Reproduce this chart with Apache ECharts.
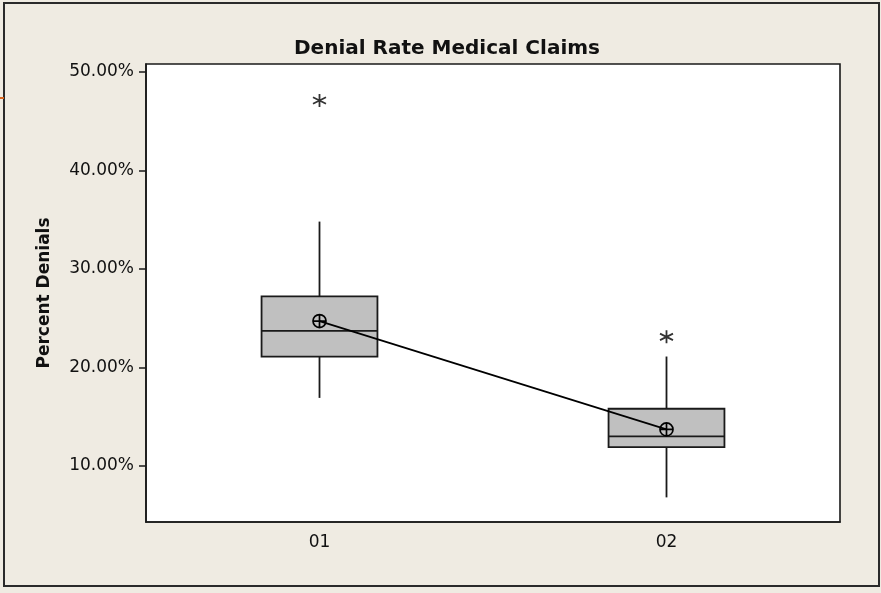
<!DOCTYPE html>
<html><head><meta charset="utf-8">
<script src="https://cdn.jsdelivr.net/npm/echarts@6/dist/echarts.min.js"></script>
<style>html,body{margin:0;padding:0;background:#efebe2}#c{width:881px;height:593px}</style>
</head><body><div id="c"></div>
<script>
const categories = ['01', '02'];
const boxMin = [16.9, 6.8];
const boxQ1 = [21.1, 11.9];
const boxMedian = [23.7, 13.0];
const boxQ3 = [27.2, 15.8];
const boxMax = [34.8, 21.1];
const means = [24.7, 13.7];
const outlierCat = [0, 1];
const outlierVal = [47.1, 23.1];
const yTicks = [10, 20, 30, 40, 50];

const boxData = categories.map((c, i) => [i, boxMin[i], boxQ1[i], boxMedian[i], boxQ3[i], boxMax[i]]);
const outlierData = outlierCat.map((c, i) => [c, outlierVal[i]]);

const chart = echarts.init(document.getElementById('c'));
const ink = '#1a1a1a';
chart.setOption({
  backgroundColor: '#efebe2',
  animation: false,
  title: {
    text: 'Denial Rate Medical Claims',
    left: 442, textAlign: 'center',
    top: 34,
    textStyle: { fontFamily: 'DejaVu Sans', fontWeight: 'bold', fontSize: 20, color: '#111' }
  },
  graphic: [
    { type: 'rect', shape: { x: 4, y: 3, width: 875, height: 583 }, style: { fill: 'none', stroke: '#2a2a2a', lineWidth: 2 }, silent: true },
    { type: 'rect', shape: { x: 0, y: 97, width: 4, height: 2 }, style: { fill: '#d9661f' }, silent: true }
  ],
  grid: {
    left: 146, right: 41, top: 64, bottom: 71,
    show: true, backgroundColor: '#ffffff', borderColor: ink, borderWidth: 1.6
  },
  xAxis: {
    type: 'category',
    data: categories,
    boundaryGap: true,
    axisLine: { lineStyle: { color: ink, width: 1.6 } },
    axisTick: { alignWithLabel: true, length: 7, lineStyle: { color: ink, width: 1.5 } },
    axisLabel: { margin: 12, fontFamily: 'DejaVu Sans', fontSize: 17, color: '#111' },
    splitLine: { show: false }
  },
  yAxis: {
    type: 'value',
    min: 4.3,
    max: 50.8,
    name: 'Percent Denials',
    nameLocation: 'middle',
    nameGap: 93,
    nameRotate: 90,
    nameTextStyle: { fontFamily: 'DejaVu Sans', fontWeight: 'bold', fontSize: 17, color: '#111' },
    axisLine: { show: true, lineStyle: { color: ink, width: 1.6 } },
    axisTick: { show: true, length: 7, customValues: yTicks, lineStyle: { color: ink, width: 1.5 } },
    axisLabel: {
      customValues: yTicks,
      margin: 12,
      fontFamily: 'DejaVu Sans', fontSize: 17, color: '#111',
      formatter: v => v.toFixed(2) + '%'
    },
    splitLine: { show: false }
  },
  series: [
    {
      type: 'custom',
      data: boxData,
      encode: { x: 0, y: [1, 2, 3, 4, 5] },
      z: 2,
      renderItem(params, api) {
        const x = api.value(0);
        const pMin = api.coord([x, api.value(1)]);
        const pQ1 = api.coord([x, api.value(2)]);
        const pMed = api.coord([x, api.value(3)]);
        const pQ3 = api.coord([x, api.value(4)]);
        const pMax = api.coord([x, api.value(5)]);
        const w = api.size([1, 0])[0] * 0.334;
        const cx = pMed[0];
        const st = { stroke: ink, lineWidth: 1.8 };
        return {
          type: 'group', children: [
            { type: 'line', shape: { x1: cx, y1: pMax[1], x2: cx, y2: pQ3[1] }, style: st },
            { type: 'line', shape: { x1: cx, y1: pQ1[1], x2: cx, y2: pMin[1] }, style: st },
            { type: 'rect', shape: { x: cx - w / 2, y: pQ3[1], width: w, height: pQ1[1] - pQ3[1] }, style: { fill: '#c0c0c0', stroke: ink, lineWidth: 1.8 } },
            { type: 'line', shape: { x1: cx - w / 2, y1: pMed[1], x2: cx + w / 2, y2: pMed[1] }, style: st }
          ]
        };
      }
    },
    {
      type: 'line',
      data: means,
      z: 4,
      symbol: 'path://M-6,0A6,6,0,1,1,6,0A6,6,0,1,1,-6,0ZM-6,0L6,0M0,-6L0,6',
      symbolSize: 13,
      showSymbol: true,
      lineStyle: { color: '#000', width: 1.7 },
      itemStyle: { color: 'rgba(0,0,0,0)', borderColor: '#000', borderWidth: 1.7 }
    },
    {
      type: 'scatter',
      data: outlierData,
      z: 4,
      symbol: 'path://M6,0L6,12M0.8,3L11.2,9M0.8,9L11.2,3',
      symbolSize: 13,
      itemStyle: { color: 'rgba(0,0,0,0)', borderColor: '#000', borderWidth: 1.8 }
    }
  ]
});
</script>
</body></html>
